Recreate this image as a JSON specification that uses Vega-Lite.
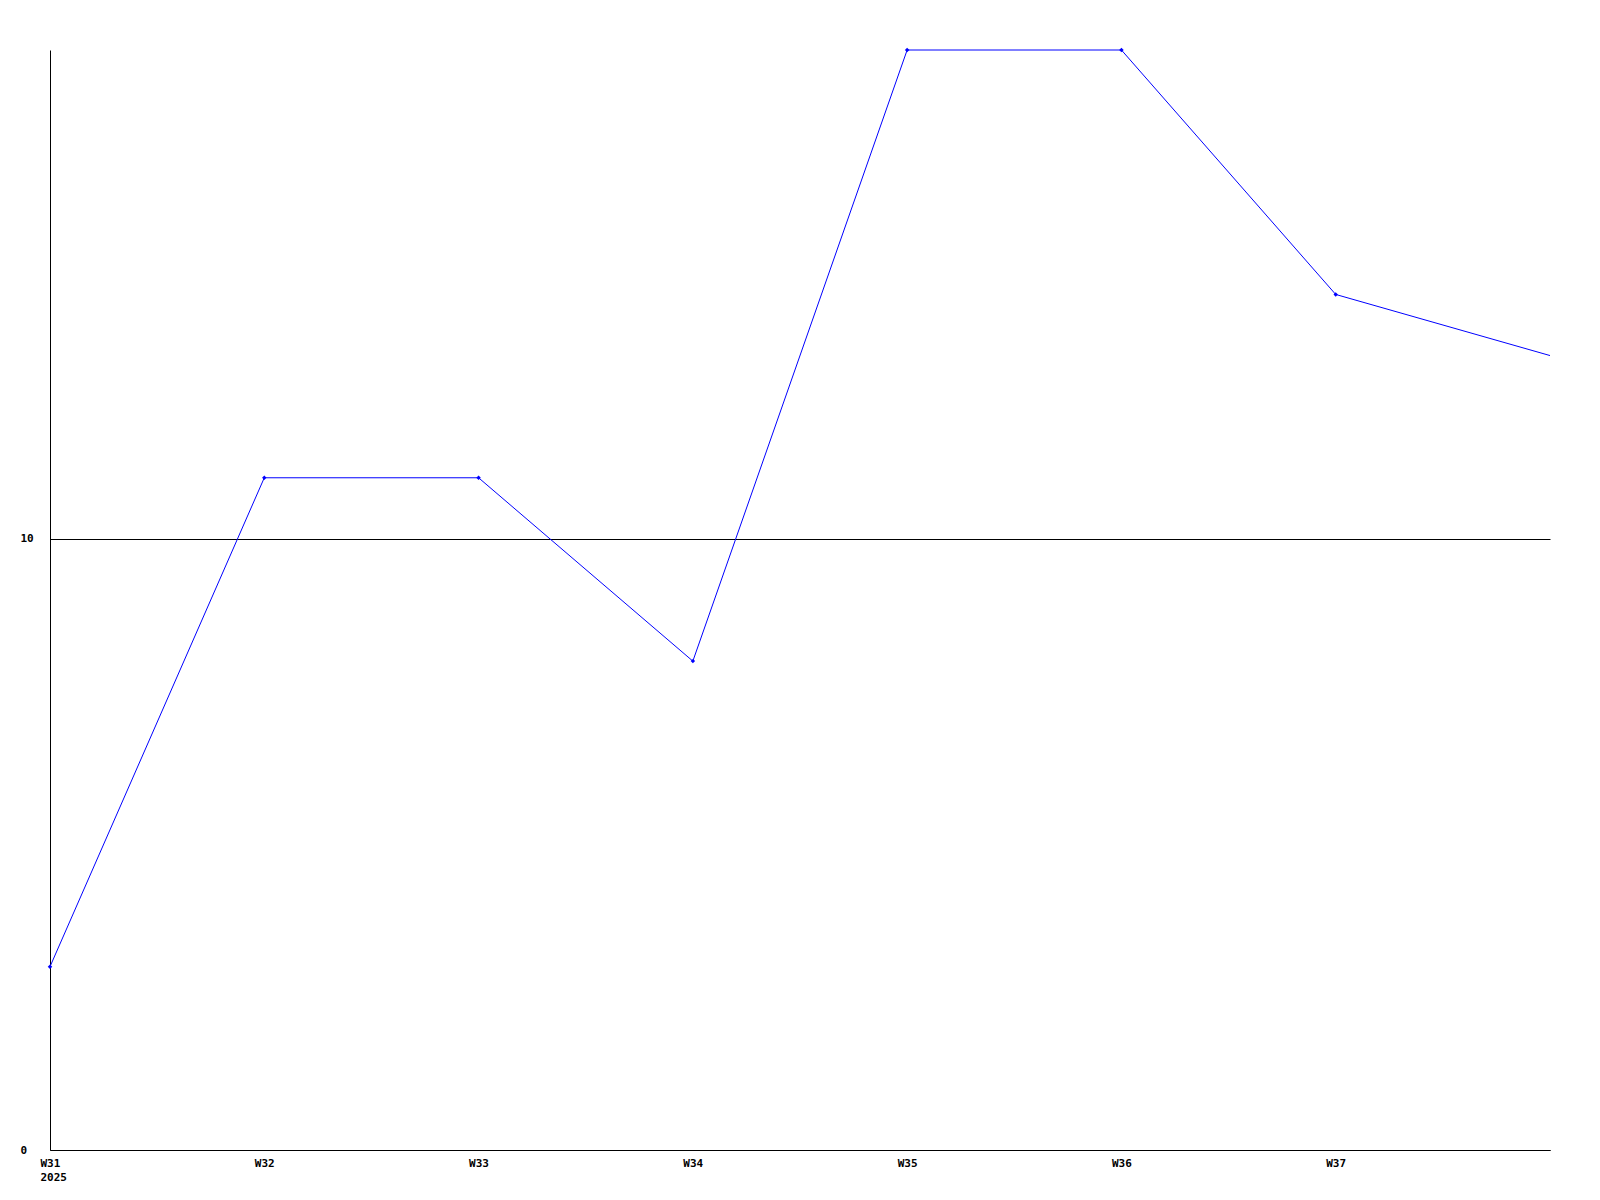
{
  "$schema": "https://vega.github.io/schema/vega-lite/v6.json",
  "width": 1500,
  "height": 1100,
  "autosize": "none",
  "padding": {"left": 50, "top": 50, "right": 50, "bottom": 50},
  "background": "white",
  "config": {"view": {"stroke": null}},
  "data": {"values": [
    {"week": 31, "value": 3},
    {"week": 32, "value": 11},
    {"week": 33, "value": 11},
    {"week": 34, "value": 8},
    {"week": 35, "value": 18},
    {"week": 36, "value": 18},
    {"week": 37, "value": 14},
    {"week": 38, "value": 13}
  ]},
  "encoding": {
    "x": {
      "field": "week", "type": "quantitative",
      "scale": {"domain": [31, 38], "nice": false, "zero": false},
      "axis": {
        "title": null, "values": [31, 32, 33, 34, 35, 36, 37],
        "labelExpr": "datum.value == 31 ? ['W31', '2025'] : 'W' + datum.value",
        "grid": false, "ticks": false, "domainColor": "black", "domainWidth": 1,
        "labelFont": "DejaVu Sans Mono", "labelFontWeight": "bold", "labelFontSize": 11,
        "labelColor": "black", "labelAlign": "left", "labelOffset": -10,
        "labelBaseline": "top", "labelPadding": 7, "labelLineHeight": 14,
        "labelFlush": false, "labelOverlap": false
      }
    },
    "y": {
      "field": "value", "type": "quantitative",
      "scale": {"domain": [0, 18], "nice": false},
      "axis": {
        "title": null, "values": [0, 10],
        "grid": true, "gridColor": "black", "gridOpacity": 1, "gridWidth": 1,
        "ticks": false, "domainColor": "black", "domainWidth": 1,
        "labelFont": "DejaVu Sans Mono", "labelFontWeight": "bold", "labelFontSize": 11,
        "labelColor": "black", "labelAlign": "left", "labelPadding": 30,
        "labelBaseline": "middle", "labelFlush": false
      }
    }
  },
  "layer": [
    {"mark": {"type": "line", "color": "#0000ff", "strokeWidth": 1}},
    {
      "transform": [{"filter": "datum.week <= 37"}],
      "mark": {"type": "point", "shape": "diamond", "filled": true, "color": "#0000ff", "size": 20, "opacity": 1}
    }
  ]
}
